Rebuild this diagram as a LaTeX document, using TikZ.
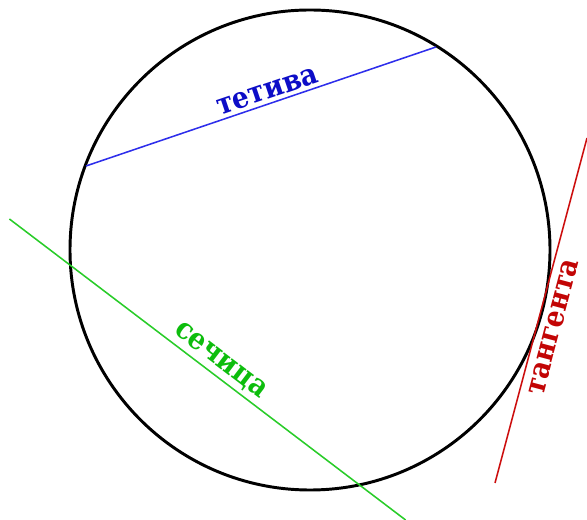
\documentclass[tikz,border=0pt]{standalone}
\usepackage{fontspec}
\setmainfont{DejaVu Serif}
\newfontfamily\ckfont{DejaVu Serif Condensed}
\begin{document}
\begin{tikzpicture}[rim/.style={line width=2.1pt, black}, chordline/.style={line width=1.1pt, ckBlueLine}, secline/.style={line width=1.1pt, ckGreenLine}, tanline/.style={line width=1.1pt, ckRedLine}, lbl/.style={font=\ckfont\bfseries\fontsize{21}{25}\selectfont, sloped, inner sep=0.25em}]
\definecolor{ckBlueLine}{rgb}{0.18,0.18,0.92}
\definecolor{ckBlue}{rgb}{0.05,0.05,0.78}
\definecolor{ckGreenLine}{rgb}{0.16,0.80,0.16}
\definecolor{ckGreen}{rgb}{0.05,0.74,0.05}
\definecolor{ckRedLine}{rgb}{0.80,0.05,0.05}
\definecolor{ckRed}{rgb}{0.76,0.02,0.02}
\useasboundingbox (0,0) rectangle (14.675,13);
\coordinate (o) at (7.750,6.750);
\coordinate (ch1) at (2.150,8.850);
\coordinate (ch2) at (10.900,11.825);
\coordinate (se1) at (0.235,7.525);
\coordinate (se2) at (10.140,0.000);
\coordinate (ta1) at (12.375,0.925);
\coordinate (ta2) at (14.675,9.550);
\draw[rim] (o) circle[radius=6.0];
\draw[chordline] (ch1) -- node[lbl, above, pos=0.53, text=ckBlue] (chlab) {тетива} (ch2);
\draw[secline] (se1) -- node[lbl, above, pos=0.51, text=ckGreen] (selab) {сечица} (se2);
\draw[tanline] (ta1) -- node[lbl, below=3pt, pos=0.465, text=ckRed] (talab) {тангента} (ta2);
\end{tikzpicture}
\end{document}
